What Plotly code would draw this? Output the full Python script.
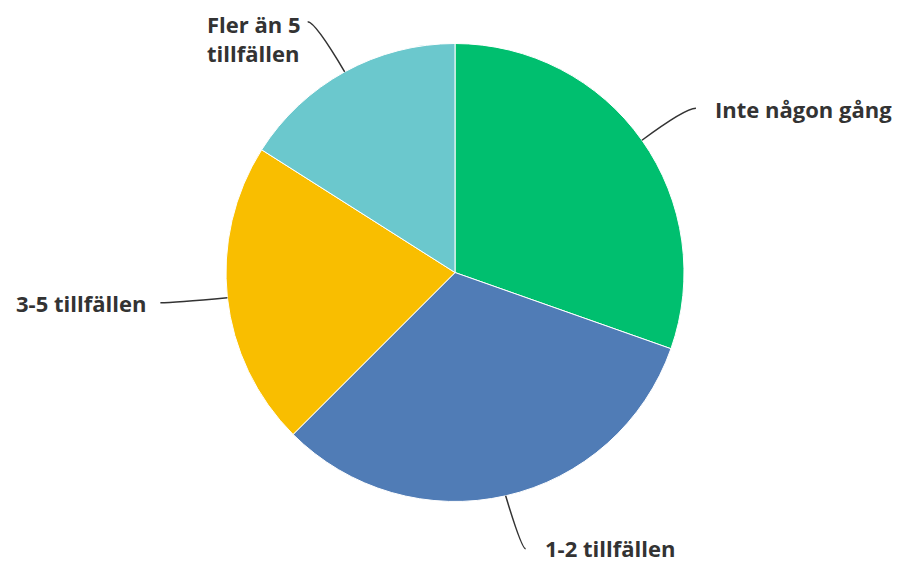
import math
import plotly.graph_objects as go

# ---- data ----
categories = ["Inte någon gång", "1-2 tillfällen", "3-5 tillfällen", "Fler än 5 tillfällen"]
display_labels = ["Inte någon gång", "1-2 tillfällen", "3-5 tillfällen", "Fler än 5<br>tillfällen"]
values = [30.4, 32.1, 21.5, 16.0]
colors = ["#00BF6F", "#507CB6", "#F9BE00", "#6BC8CD"]

# ---- layout geometry (pixels) ----
W, H = 900, 563
PAGE_MARGIN = 8  # default body margin of the html page
CX, CY, R = 455 - PAGE_MARGIN, 272.5 - PAGE_MARGIN, 229
# leader line end offsets relative to the slice-edge point
line_ends = [(54, -32), (20, 53), (-67, 5), (-37, -50)]
# text placement relative to the line end: (xanchor, yanchor, dx, dy)
text_place = [("left", "middle", 17, 1), ("left", "middle", 17, -1),
              ("right", "middle", -12, 0), ("right", "top", -5, -15)]

FONT = dict(family="Open Sans, sans-serif", size=22, color="#333333", weight=700)


def px(x):
    return x / W


def py(y):
    return 1 - y / H


fig = go.Figure(go.Pie(
    labels=categories,
    values=values,
    sort=False,
    direction="clockwise",
    rotation=0,
    textinfo="none",
    hoverinfo="label+percent",
    marker=dict(colors=colors, line=dict(color="white", width=1)),
    domain=dict(x=[px(CX - R), px(CX + R)], y=[py(CY + R), py(CY - R)]),
    showlegend=False,
))

total = sum(values)
cum = 0.0
shapes, annotations = [], []
for i, v in enumerate(values):
    mid = (cum + v / 2) / total * 2 * math.pi
    cum += v
    sx = CX + R * math.sin(mid)
    sy = CY - R * math.cos(mid)
    ex = sx + line_ends[i][0]
    ey = sy + line_ends[i][1]
    cxp = sx + 0.8 * (ex - sx)
    cyp = ey
    path = f"M {px(sx)},{py(sy)} Q {px(cxp)},{py(cyp)} {px(ex)},{py(ey)}"
    shapes.append(dict(type="path", path=path, xref="paper", yref="paper",
                       line=dict(color="#333333", width=1.5)))
    xa, ya, dx, dy = text_place[i]
    annotations.append(dict(text=display_labels[i], x=px(ex + dx), y=py(ey + dy),
                            xref="paper", yref="paper", xanchor=xa, yanchor=ya,
                            align="left", showarrow=False, font=FONT))

fig.update_layout(
    width=W, height=H,
    margin=dict(l=0, r=0, t=0, b=0),
    paper_bgcolor="white",
    plot_bgcolor="white",
    shapes=shapes,
    annotations=annotations,
)

fig.write_html("out.html")
